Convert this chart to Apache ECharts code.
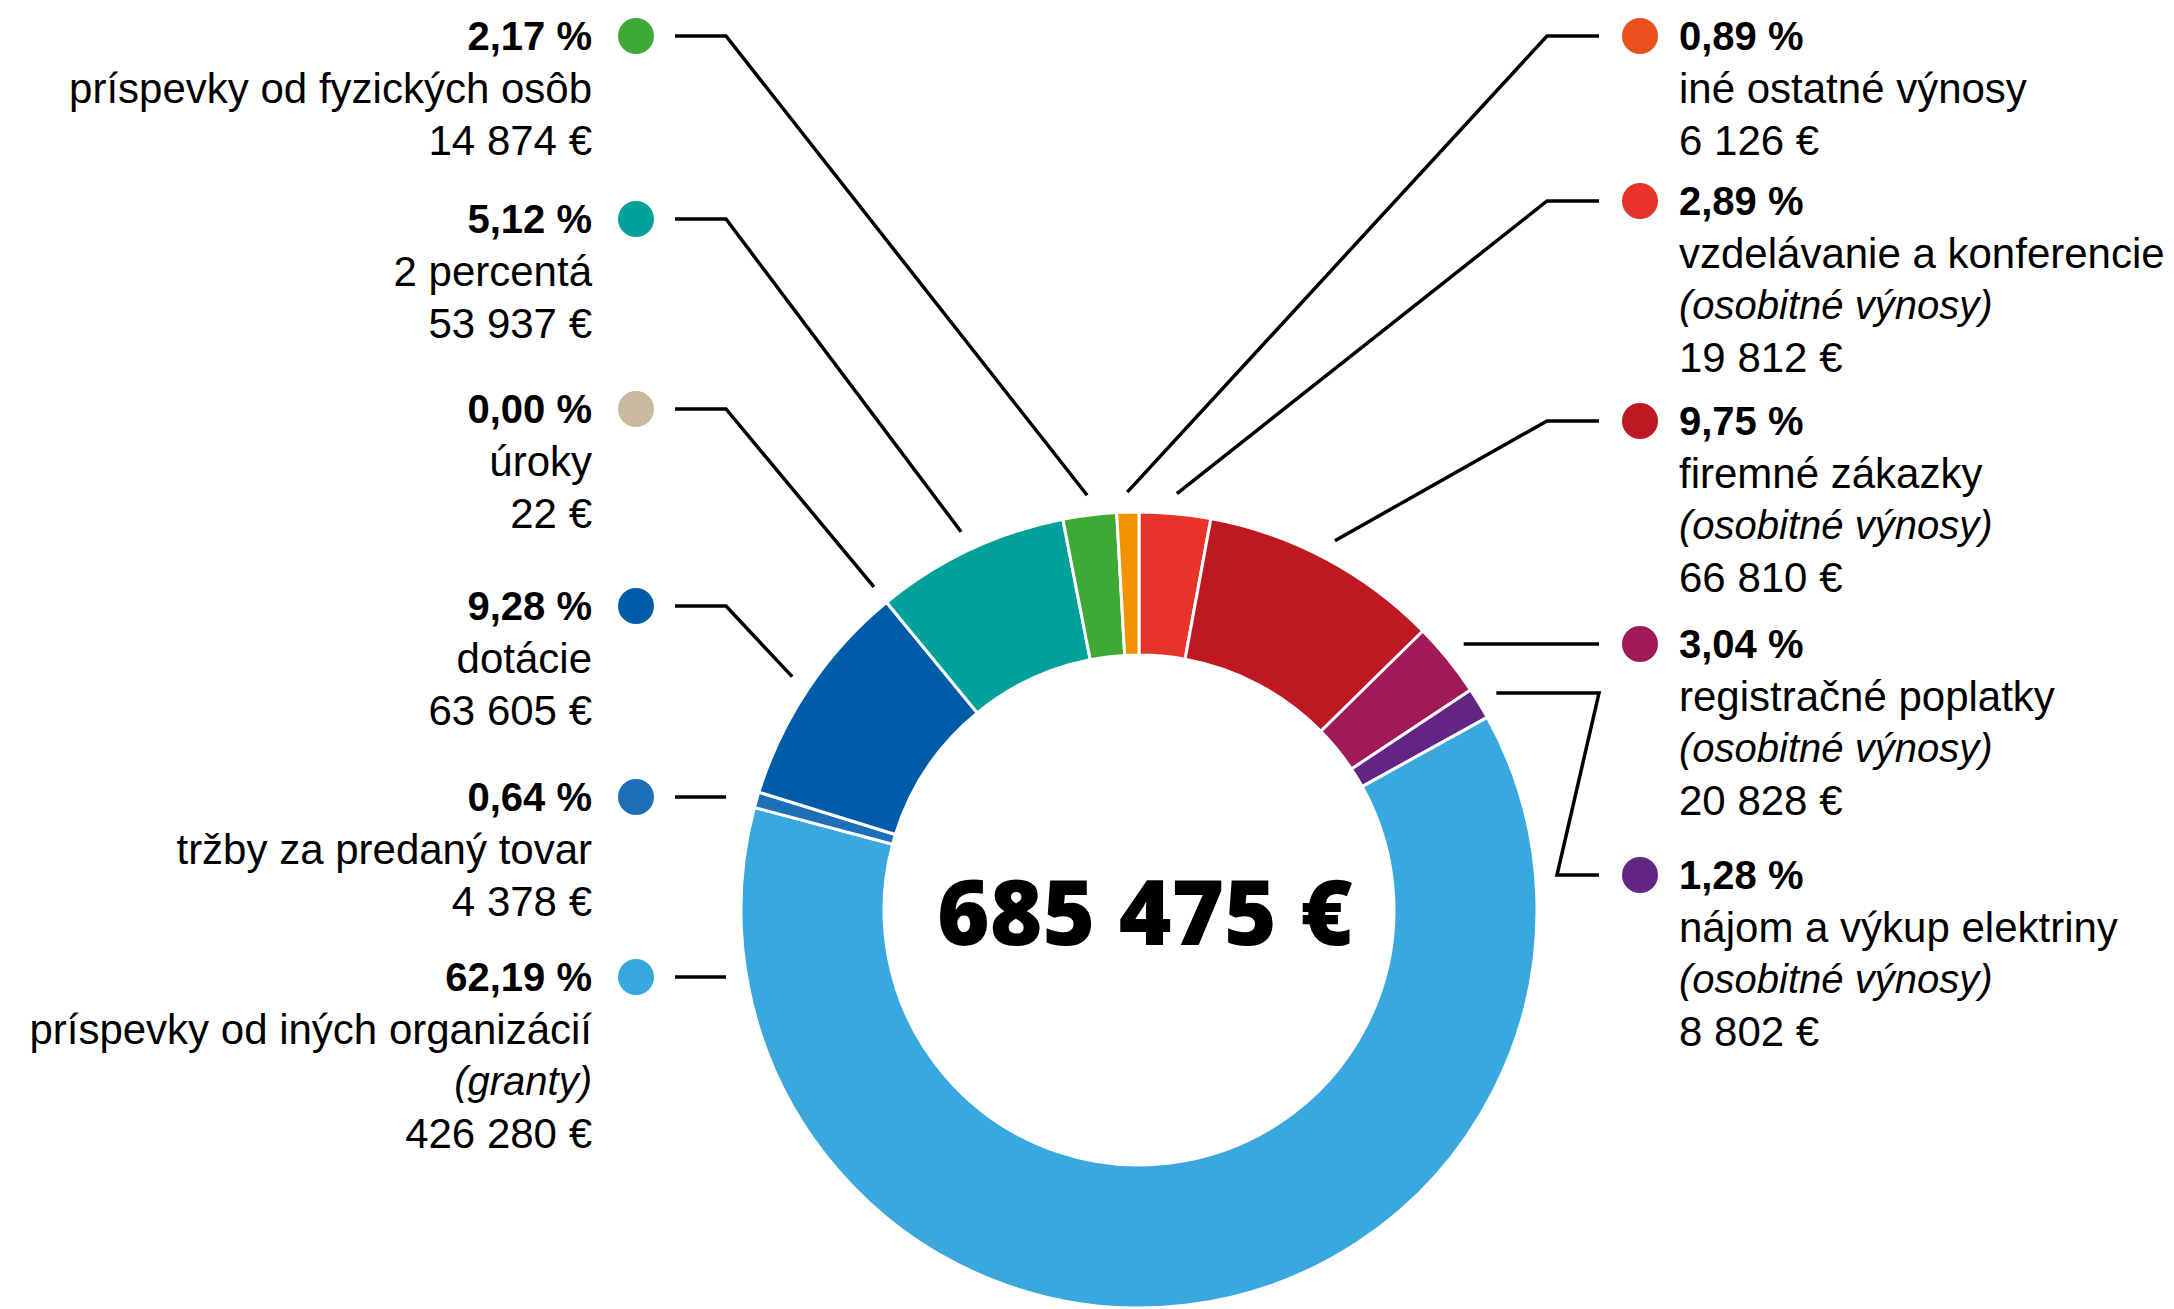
<!DOCTYPE html>
<html>
<head>
<meta charset="utf-8">
<title>Výnosy</title>
<script src="https://cdn.jsdelivr.net/npm/echarts@6/dist/echarts.min.js"></script>
<style>
  html, body { margin: 0; padding: 0; background: #fff; }
  #chart { width: 2174px; height: 1309px; }
</style>
</head>
<body>
<div id="chart"></div>
<script>
// slices, clockwise from 12 o'clock
const categories = [
  'vzdelávanie a konferencie', 'firemné zákazky', 'registračné poplatky',
  'nájom a výkup elektriny', 'príspevky od iných organizácií', 'tržby za predaný tovar',
  'dotácie', 'úroky', '2 percentá', 'príspevky od fyzických osôb', 'iné ostatné výnosy'
];
const notes = ['osobitné výnosy', 'osobitné výnosy', 'osobitné výnosy', 'osobitné výnosy', 'granty', '', '', '', '', '', ''];
const amounts = [19812, 66810, 20828, 8802, 426280, 4378, 63605, 22, 53937, 14874, 6126];
// percentages as printed on the original
const shareLabels = ['2,89 %', '9,75 %', '3,04 %', '1,28 %', '62,19 %', '0,64 %', '9,28 %', '0,00 %', '5,12 %', '2,17 %', '0,89 %'];
const totalAmount = 685475;

// styles
const sliceColors = ['#e7332a', '#be1823', '#a01a58', '#632583', '#38a8df', '#1d70b7', '#005ca9', '#c9b99e', '#00a19a', '#3eaa35', '#f39200'];
const dotColors = ['#e7332a', '#be1823', '#a01a58', '#632583', '#38a8df', '#1d70b7', '#005ca9', '#c9b99e', '#00a19a', '#3eaa35', '#e9501e'];

// label placement
const labelSide = ['right', 'right', 'right', 'right', 'left', 'left', 'left', 'left', 'left', 'left', 'right'];
const labelDotY = [201, 421, 644, 875, 977, 797, 606, 409, 219, 36, 36];
const labelRoute = ['', '', '', 'bracket', '', '', '', '', '', '', ''];

const CX = 1139, CY = 910, R_IN = 255, R_OUT = 398, R_LINE = 418;
const DOT = 36, LINE_H = 52;
const LEFT_DOT_X = 636, RIGHT_DOT_X = 1640;
const L_ELBOW = 726, L_END = 675, R_ELBOW = 1547, R_END = 1599;
const FONT = '"Liberation Sans", Arial, sans-serif';

const fmt = n => String(n).replace(/\B(?=(\d{3})+(?!\d))/g, ' ');

const sum = amounts.reduce((a, b) => a + b, 0);
let acc = 0;
const midAngles = amounts.map(v => {
  const a = (acc + v / 2) / sum * Math.PI * 2;
  acc += v;
  return a;
});

const rich = {
  pct: { fontFamily: FONT, fontWeight: 'bold', fontSize: 40, lineHeight: LINE_H, color: '#000' },
  name: { fontFamily: FONT, fontSize: 42, lineHeight: LINE_H, color: '#000' },
  note: { fontFamily: FONT, fontStyle: 'italic', fontSize: 40, lineHeight: LINE_H, color: '#000' },
  amt: { fontFamily: FONT, fontSize: 42, lineHeight: LINE_H, color: '#000' },
  gapL: { width: 26, lineHeight: LINE_H },
  gapR: { width: 21, lineHeight: LINE_H },
  padL: { width: 26 + DOT, lineHeight: LINE_H },
  padR: { width: 21 + DOT, lineHeight: LINE_H }
};
dotColors.forEach((c, i) => {
  rich['d' + i] = { width: DOT, height: DOT, borderRadius: DOT / 2, backgroundColor: c, lineHeight: LINE_H };
});

const chart = echarts.init(document.getElementById('chart'), null, { renderer: 'svg' });

chart.setOption({
  animation: false,
  backgroundColor: '#fff',
  graphic: [{
    type: 'text',
    x: 1145,
    y: CY,
    style: {
      text: fmt(totalAmount) + ' €',
      fontFamily: '"Noto Sans", sans-serif',
      fontWeight: 900,
      fontSize: 90,
      fill: '#000',
      textAlign: 'center',
      textVerticalAlign: 'middle'
    }
  }],
  series: [{
    type: 'pie',
    center: [CX, CY],
    radius: [R_IN, R_OUT],
    startAngle: 90,
    clockwise: true,
    avoidLabelOverlap: false,
    itemStyle: { borderColor: '#fff', borderWidth: 3 },
    label: {
      show: true,
      position: 'outside',
      rich: rich,
      formatter: params => {
        const i = params.dataIndex;
        const left = labelSide[i] === 'left';
        const body = ['{name|' + categories[i] + '}'];
        if (notes[i]) body.push('{note|(' + notes[i] + ')}');
        body.push('{amt|' + fmt(amounts[i]) + ' €}');
        if (left) {
          return ['{pct|' + shareLabels[i] + '}{gapL|}{d' + i + '|}']
            .concat(body.map(s => s + '{padL|}')).join('\n');
        }
        return ['{d' + i + '|}{gapR|}{pct|' + shareLabels[i] + '}']
          .concat(body.map(s => '{padR|}' + s)).join('\n');
      }
    },
    labelLine: {
      show: true,
      smooth: false,
      lineStyle: { color: '#000', width: 3.5 }
    },
    labelLayout: params => {
      const i = params.dataIndex;
      const left = labelSide[i] === 'left';
      const y = labelDotY[i];
      const a = midAngles[i];
      let ax = CX + R_LINE * Math.sin(a);
      let ay = CY - R_LINE * Math.cos(a);
      if (ay > CY) {
        // slice middle lies below: meet the ring at the label's level
        ay = y;
        ax = CX + (left ? -1 : 1) * Math.sqrt(R_LINE * R_LINE - (y - CY) * (y - CY));
      }
      if (Math.abs(ay - y) < 6) ay = y;
      const ex = left ? L_ELBOW : R_ELBOW;
      let pts;
      if (labelRoute[i] === 'bracket') {
        pts = [[ax, ay], [R_END, ay], [1557, y], [R_END, y]];
      } else if (Math.abs(ax - ex) < 15 && Math.abs(ay - y) < 15) {
        pts = [[ex, y], [left ? L_END : R_END, y]];
      } else {
        pts = [[ax, ay], [ex, y], [left ? L_END : R_END, y]];
      }
      return {
        x: left ? LEFT_DOT_X + DOT / 2 : RIGHT_DOT_X - DOT / 2,
        y: y - LINE_H / 2,
        align: left ? 'right' : 'left',
        verticalAlign: 'top',
        labelLinePoints: pts
      };
    },
    emphasis: { disabled: true },
    data: categories.map((name, i) => ({
      name: name,
      value: amounts[i],
      itemStyle: { color: sliceColors[i] }
    }))
  }]
});
</script>
</body>
</html>
